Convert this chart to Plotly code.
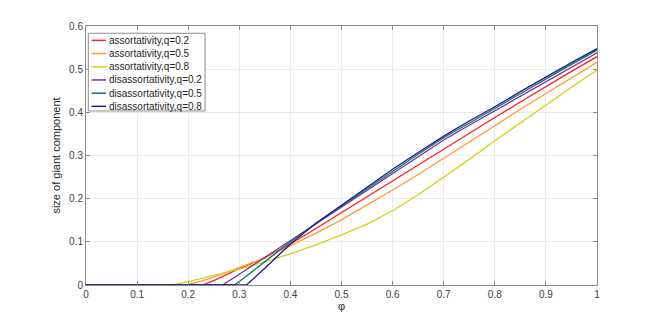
import plotly.graph_objects as go

# readings of the curves (phi, size of giant component)
phi_a02 = [0, 0.228, 0.25, 0.275, 0.3, 0.35, 0.4, 0.45, 0.5, 0.55, 0.6, 0.65, 0.7, 0.75, 0.8, 0.85, 0.9, 0.95, 1.0]
gc_a02 = [0, 0, 0.01, 0.024, 0.038, 0.063, 0.095, 0.131, 0.168, 0.205, 0.241, 0.278, 0.315, 0.352, 0.388, 0.424, 0.46, 0.495, 0.529]

phi_a05 = [0, 0.197, 0.225, 0.25, 0.275, 0.3, 0.35, 0.4, 0.45, 0.5, 0.55, 0.6, 0.65, 0.7, 0.75, 0.8, 0.85, 0.9, 0.95, 1.0]
gc_a05 = [0, 0, 0.009, 0.018, 0.029, 0.04, 0.063, 0.091, 0.12, 0.151, 0.185, 0.22, 0.256, 0.293, 0.331, 0.369, 0.407, 0.444, 0.48, 0.516]

phi_a08 = [0, 0.17, 0.2, 0.25, 0.3, 0.35, 0.4, 0.45, 0.5, 0.55, 0.6, 0.65, 0.7, 0.75, 0.8, 0.85, 0.9, 0.95, 1.0]
gc_a08 = [0, 0, 0.008, 0.022, 0.037, 0.054, 0.072, 0.093, 0.116, 0.141, 0.172, 0.209, 0.249, 0.291, 0.334, 0.376, 0.418, 0.458, 0.498]

phi_d02 = [0, 0.267, 0.3, 0.35, 0.4, 0.45, 0.5, 0.55, 0.6, 0.65, 0.7, 0.75, 0.8, 0.85, 0.9, 0.95, 1.0]
gc_d02 = [0, 0, 0.025, 0.064, 0.104, 0.143, 0.18, 0.22, 0.259, 0.298, 0.336, 0.37, 0.404, 0.438, 0.472, 0.505, 0.538]

phi_d05 = [0, 0.29, 0.3, 0.35, 0.4, 0.45, 0.5, 0.55, 0.6, 0.65, 0.7, 0.75, 0.8, 0.85, 0.9, 0.95, 1.0]
gc_d05 = [0, 0, 0.008, 0.054, 0.1, 0.143, 0.183, 0.225, 0.264, 0.303, 0.341, 0.376, 0.409, 0.443, 0.478, 0.511, 0.544]

phi_d08 = [0, 0.314, 0.35, 0.4, 0.45, 0.5, 0.55, 0.6, 0.65, 0.7, 0.75, 0.8, 0.85, 0.9, 0.95, 1.0]
gc_d08 = [0, 0, 0.039, 0.095, 0.143, 0.185, 0.228, 0.268, 0.307, 0.345, 0.38, 0.413, 0.448, 0.482, 0.515, 0.5475]

series = [
    ('assortativity,q=0.2', phi_a02, gc_a02, '#FF1F1F'),
    ('assortativity,q=0.5', phi_a05, gc_a05, '#FF9933'),
    ('assortativity,q=0.8', phi_a08, gc_a08, '#D2D21E'),
    ('disassortativity,q=0.2', phi_d02, gc_d02, '#7E2F8E'),
    ('disassortativity,q=0.5', phi_d05, gc_d05, '#0F7373'),
    ('disassortativity,q=0.8', phi_d08, gc_d08, '#1C1C80'),
]

fig = go.Figure()
for name, x, y, color in series:
    fig.add_trace(go.Scatter(x=x, y=y, mode='lines', name=name, showlegend=False,
                             line=dict(color=color, width=1.3)))

# MATLAB-like compact legend, top left inside the axes (paper coords)
fig.add_shape(type='rect', xref='paper', yref='paper', x0=0.0045, x1=0.233, y0=0.672, y1=0.972,
              line=dict(color='#8C8C8C', width=1), fillcolor='white', layer='above')
row_h = 13.5 / 265
for i, (name, x, y, color) in enumerate(series):
    yy = 1 - (36.7 - 22) / 265 - i * row_h
    fig.add_shape(type='line', xref='paper', yref='paper', x0=0.011, x1=0.039, y0=yy, y1=yy,
                  line=dict(color=color, width=1.5), layer='above')
    fig.add_annotation(xref='paper', yref='paper', x=0.041, y=yy, text=name, showarrow=False,
                       xanchor='left', yanchor='middle', font=dict(size=10, color='#262626'))

axis_style = dict(showline=True, linecolor='#8C8C8C', linewidth=1, mirror='ticks',
                  ticks='inside', ticklen=4, tickcolor='#8C8C8C',
                  showgrid=True, gridcolor='#EBEBEB', gridwidth=1, zeroline=False,
                  tickfont=dict(size=10, color='#404040'))

# page body keeps its default 8px margin, so the figure is 8px smaller each way
fig.update_layout(
    width=650, height=314,
    paper_bgcolor='white', plot_bgcolor='white',
    margin=dict(l=78, r=61, t=14, b=35),
    font=dict(family='Liberation Sans, Arial, sans-serif', size=10, color='#262626'),
    xaxis=dict(range=[0, 1], dtick=0.1, title=dict(text='φ', standoff=2, font=dict(size=11)), **axis_style),
    yaxis=dict(range=[0, 0.6], dtick=0.1, title=dict(text='size of giant component', standoff=6, font=dict(size=11)),
               **axis_style),
)

fig.write_html("out.html")
